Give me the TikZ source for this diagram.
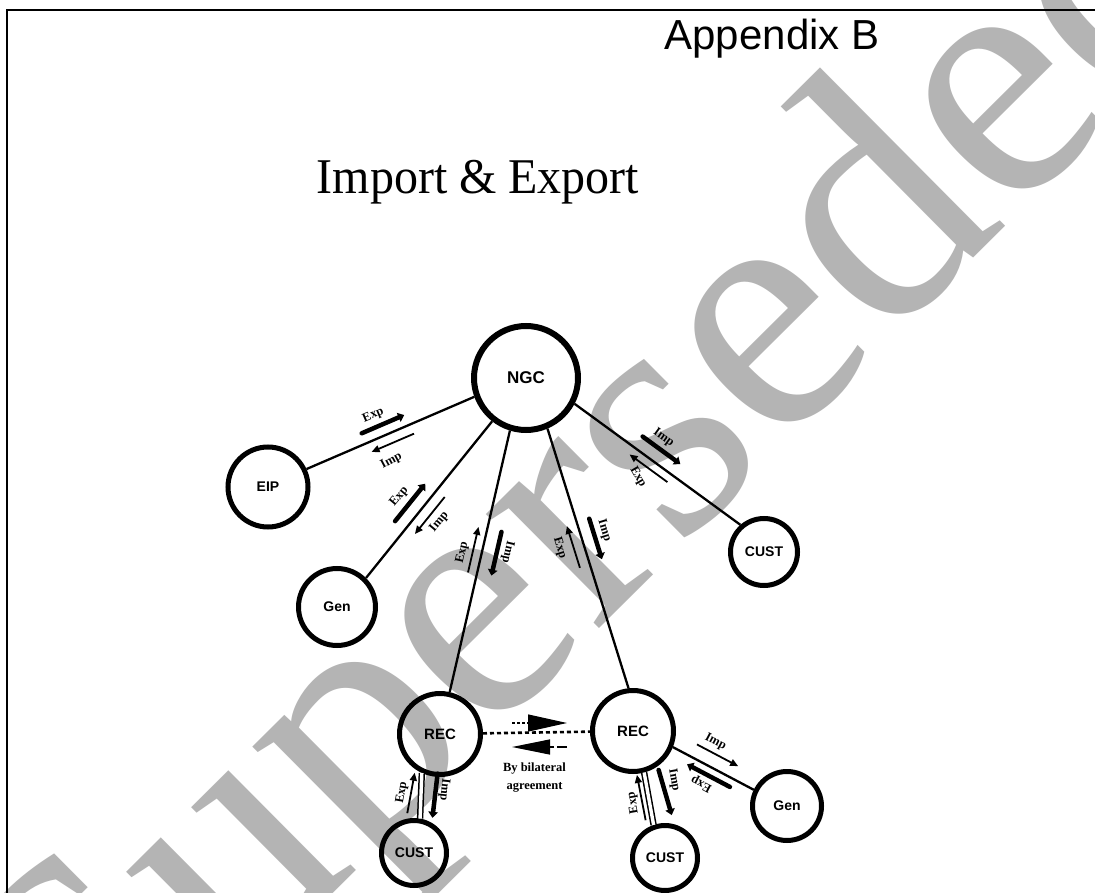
\documentclass[tikz,border=0pt]{standalone}
\usepackage{fontspec}
\setmainfont{Liberation Serif}
\newfontfamily\sansf{Liberation Sans}
\newfontfamily\titlef[FakeStretch=0.96]{Liberation Serif}
\usetikzlibrary{calc,arrows.meta}
\definecolor{wmgray}{RGB}{180,180,180}
\newcommand\wmf{\fontsize{350}{400}\selectfont}
\begin{document}
\begin{tikzpicture}[x=1pt,y=-1pt,
  circ/.style={circle,draw,line width=5pt,inner sep=0pt,minimum size=#1,font=\sansf\bfseries\fontsize{14}{16}\selectfont},
  conn/.style={line width=2.3pt},
  dbl/.style={double,double distance=3.4pt,line width=1.5pt},
  thk/.style={line width=4.5pt,line cap=round,-{Triangle[length=6pt,width=9.5pt]}},
  thn/.style={line width=1.8pt,-{Triangle[length=8pt,width=7pt]}},
  lbl/.style={inner sep=0pt,font=\bfseries\fontsize{12.5}{14}\selectfont},
  bil/.style={line width=1.2pt},
]
\useasboundingbox (0,0) rectangle (1095,893);
\fill[white] (0,0) rectangle (1095,893);
% watermark
\begin{scope}
\clip (0,0) rectangle (1095,893);
\node[anchor=base west,rotate=44.8,inner sep=0pt,text=wmgray,font=\wmf] (wm) at (98,1127) {Superseded};
\end{scope}
% frame
\draw[line width=2pt] (7,893) -- (7,10) -- (1095,10);
% titles
\node[anchor=base,inner sep=0pt,font=\sansf\fontsize{42}{50}\selectfont] (app) at (772,50) {Appendix B};
\node[anchor=base,inner sep=0pt,font=\titlef\fontsize{50}{60}\selectfont] (title) at (478,194) {Import \& Export};
% nodes
\node[circ=104,line width=6pt,font=\sansf\bfseries\fontsize{17}{19}\selectfont] (ngc) at (526,378) {NGC};
\node[circ=80] (eip) at (268,487) {EIP};
\node[circ=77] (genL) at (337,607) {Gen};
\node[circ=67] (custR) at (764,552) {CUST};
\node[circ=81,font=\sansf\bfseries\fontsize{15}{17}\selectfont] (recL) at (440,734) {REC};
\node[circ=81,font=\sansf\bfseries\fontsize{15}{17}\selectfont] (recR) at (633,731) {REC};
\node[circ=65] (custL) at (414,853) {CUST};
\node[circ=65] (custB) at (665,858) {CUST};
\node[circ=69] (genR) at (787,806) {Gen};
% connectors
\draw[conn] (ngc.-160.6) -- (eip.25.4);
\draw[conn] (ngc.-128.9) -- (genL.45);
\draw[conn] (ngc.-107.5) -- (recL.77.2);
\draw[conn] (ngc.-67.2) -- (recR.96.5);
\draw[conn] (ngc.-28.9) -- (custR.131.6);
\draw[dbl] (recL.-115) -- (custL.80.6);
\draw[dbl] (recR.-75.4) -- (custB.109);
\draw[conn] (recR.-22.1) -- (genR.154.6);
\draw[line width=2.6pt,dash pattern=on 4pt off 3pt] (recL) -- (recR);
% edge anchor coordinates
\coordinate (e1a) at (ngc.-160.6); \coordinate (e1b) at (eip.25.4);
\coordinate (e2a) at (ngc.-128.9); \coordinate (e2b) at (genL.45);
\coordinate (e3a) at (ngc.-107.5); \coordinate (e3b) at (recL.77.2);
\coordinate (e4a) at (ngc.-67.2);  \coordinate (e4b) at (recR.96.5);
\coordinate (e5a) at (ngc.-28.9);  \coordinate (e5b) at (custR.131.6);
\coordinate (e6a) at (recL.-115);  \coordinate (e6b) at (custL.80.6);
\coordinate (e7a) at (recR.-75.4); \coordinate (e7b) at (custB.109);
\coordinate (e8a) at (recR.-22.1); \coordinate (e8b) at (genR.154.6);
% edge 1 NGC-EIP
\draw[thk] ($(e1a)!0.645!(e1b)!11pt!-90:(e1b)$) -- ($(e1a)!0.392!(e1b)!11pt!-90:(e1b)$);
\draw[thn] ($(e1a)!0.383!(e1b)!10pt!90:(e1b)$) -- ($(e1a)!0.636!(e1b)!10pt!90:(e1b)$);
\node[lbl,rotate=23] (l1x) at ($(e1a)!0.548!(e1b)!23pt!-90:(e1b)$) {Exp};
\node[lbl,rotate=28] (l1m) at ($(e1a)!0.555!(e1b)!26pt!90:(e1b)$) {Imp};
% edge 2 NGC-Gen
\draw[thk] ($(e2a)!0.689!(e2b)!13pt!-90:(e2b)$) -- ($(e2a)!0.450!(e2b)!13pt!-90:(e2b)$);
\draw[thn] ($(e2a)!0.441!(e2b)!10.5pt!90:(e2b)$) -- ($(e2a)!0.677!(e2b)!10.5pt!90:(e2b)$);
\node[lbl,rotate=50] (l2x) at ($(e2a)!0.582!(e2b)!25pt!-90:(e2b)$) {Exp};
\node[lbl,rotate=50] (l2m) at ($(e2a)!0.555!(e2b)!22pt!90:(e2b)$) {Imp};
% edge 3 NGC-REC left
\draw[thn] ($(e3a)!0.550!(e3b)!9pt!-90:(e3b)$) -- ($(e3a)!0.376!(e3b)!9pt!-90:(e3b)$);
\draw[thk] ($(e3a)!0.375!(e3b)!14.5pt!90:(e3b)$) -- ($(e3a)!0.542!(e3b)!14.5pt!90:(e3b)$);
\node[lbl,rotate=77] (l3x) at ($(e3a)!0.482!(e3b)!19pt!-90:(e3b)$) {Exp};
\node[lbl,rotate=-103] (l3m) at ($(e3a)!0.444!(e3b)!25pt!90:(e3b)$) {Imp};
% edge 4 NGC-REC right
\draw[thn] ($(e4a)!0.524!(e4b)!10.5pt!-90:(e4b)$) -- ($(e4a)!0.363!(e4b)!10.5pt!-90:(e4b)$);
\draw[thk] ($(e4a)!0.362!(e4b)!13pt!90:(e4b)$) -- ($(e4a)!0.518!(e4b)!13pt!90:(e4b)$);
\node[lbl,rotate=-73] (l4x) at ($(e4a)!0.433!(e4b)!24pt!-90:(e4b)$) {Exp};
\node[lbl,rotate=-73] (l4m) at ($(e4a)!0.419!(e4b)!24pt!90:(e4b)$) {Imp};
% edge 5 NGC-CUST
\draw[thk] ($(e5a)!0.362!(e5b)!13.7pt!90:(e5b)$) -- ($(e5a)!0.589!(e5b)!13.7pt!90:(e5b)$);
\draw[thn] ($(e5a)!0.590!(e5b)!8.5pt!-90:(e5b)$) -- ($(e5a)!0.362!(e5b)!8.5pt!-90:(e5b)$);
\node[lbl,rotate=-36] (l5m) at ($(e5a)!0.448!(e5b)!25pt!90:(e5b)$) {Imp};
\node[lbl,rotate=-60] (l5x) at ($(e5a)!0.46!(e5b)!22pt!-90:(e5b)$) {Exp};
% edge 6 REC left - CUST left
\draw[thn] ($(e6a)!0.893!(e6b)!13pt!-90:(e6b)$) -- ($(e6a)!0.0!(e6b)!7.1pt!-90:(e6b)$);
\draw[thk] ($(e6a)!0.0!(e6b)!15.8pt!90:(e6b)$) -- ($(e6a)!0.974!(e6b)!12.3pt!90:(e6b)$);
\node[lbl,rotate=80] (l6x) at ($(e6a)!0.444!(e6b)!19pt!-90:(e6b)$) {Exp};
\node[lbl,rotate=-96] (l6m) at ($(e6a)!0.353!(e6b)!23pt!90:(e6b)$) {Imp};
% edge 7 REC right - CUST
\draw[thn] ($(e7a)!0.886!(e7b)!7pt!-90:(e7b)$) -- ($(e7a)!0.02!(e7b)!7.5pt!-90:(e7b)$);
\draw[thk] ($(e7a)!0.0!(e7b)!14.7pt!90:(e7b)$) -- ($(e7a)!0.879!(e7b)!19.6pt!90:(e7b)$);
\node[lbl,rotate=100] (l7x) at ($(e7a)!0.525!(e7b)!16pt!-90:(e7b)$) {Exp};
\node[lbl,rotate=-80] (l7m) at ($(e7a)!0.232!(e7b)!28pt!90:(e7b)$) {Imp};
% edge 8 REC right - Gen
\draw[thn] ($(e8a)!0.219!(e8b)!13.6pt!90:(e8b)$) -- ($(e8a)!0.729!(e8b)!13.6pt!90:(e8b)$);
\draw[thk] ($(e8a)!0.755!(e8b)!8.6pt!-90:(e8b)$) -- ($(e8a)!0.225!(e8b)!8.6pt!-90:(e8b)$);
\node[lbl,rotate=-28] (l8m) at ($(e8a)!0.388!(e8b)!24pt!90:(e8b)$) {Imp};
\node[lbl,rotate=152] (l8x) at ($(e8a)!0.464!(e8b)!19pt!-90:(e8b)$) {Exp};
% bilateral
\coordinate (mid) at ($(recL)!0.5!(recR)$);
\draw[bil,dash pattern=on 3pt off 2pt,-{Triangle[length=39pt,width=17pt]}] ($(mid)+(-24.5,-9.5)$) -- ($(mid)+(30.5,-9.5)$);
\draw[bil,dash pattern=on 10pt off 3pt,-{Triangle[length=38pt,width=15pt]}] ($(mid)+(30.5,14.5)$) -- ($(mid)+(-24.5,14.5)$);
\node[inner sep=0pt,align=center,font=\bfseries\fontsize{12.5}{17.5}\selectfont] (bilat) at ($(mid)+(-2,45)$) {By bilateral\\agreement};
\end{tikzpicture}
\end{document}
